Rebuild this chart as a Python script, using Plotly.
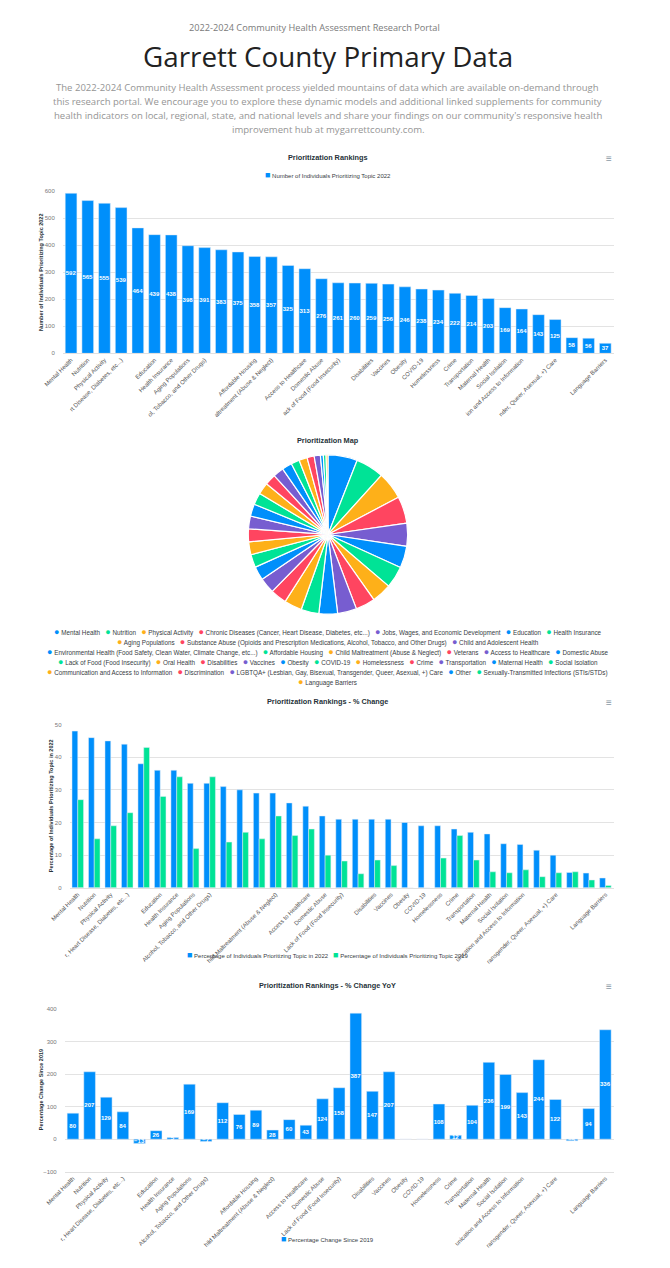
import plotly.graph_objects as go

W, H = 670, 1268

categories = [
    "Mental Health", "Nutrition", "Physical Activity",
    "Chronic Diseases (Cancer, Heart Disease, Diabetes, etc...)",
    "Jobs, Wages, and Economic Development", "Education", "Health Insurance",
    "Aging Populations",
    "Substance Abuse (Opioids and Prescription Medications, Alcohol, Tobacco, and Other Drugs)",
    "Child and Adolescent Health",
    "Environmental Health (Food Safety, Clean Water, Climate Change, etc...)",
    "Affordable Housing", "Child Maltreatment (Abuse & Neglect)", "Veterans",
    "Access to Healthcare", "Domestic Abuse", "Lack of Food (Food Insecurity)",
    "Oral Health", "Disabilities", "Vaccines", "Obesity", "COVID-19", "Homelessness",
    "Crime", "Transportation", "Maternal Health", "Social Isolation",
    "Communication and Access to Information", "Discrimination",
    "LGBTQA+ (Lesbian, Gay, Bisexual, Transgender, Queer, Asexual, +) Care",
    "Other", "Sexually-Transmitted Infections (STIs/STDs)", "Language Barriers",
]

count_2022 = [592, 565, 555, 539, 464, 439, 438, 398, 391, 383, 375, 358, 357, 325, 313,
              276, 261, 260, 259, 256, 246, 238, 234, 222, 214, 203, 169, 164, 143, 125,
              58, 56, 37]

pct_2022 = [48, 46, 45, 44, 38, 36, 36, 32, 32, 31, 30, 29, 29, 26, 25, 22, 21,
            21, 21, 21, 20, 19, 19, 18, 17, 16.5, 13.5, 13.3, 11.5, 10, 4.7, 4.5, 3]

pct_2019 = [27, 15, 19, 23, 43, 28, 34, 12, 34, 14, 17, 15, 22, 16, 18, 10, 8.2,
            4.3, 8.5, 6.8, 0, 0, 9.1, 16, 8.5, 4.9, 4.6, 5.5, 3.4, 4.6, 4.9, 2.4, 0.7]

pct_change = [80, 207, 129, 84, -13, 26, 5, 169, -7, 112, 76, 89, 28, 60, 43, 124, 158,
              387, 147, 207, 0, 0, 108, 12, 104, 236, 199, 143, 244, 122, -5, 94, 336]

palette = ["#008FFB", "#00E396", "#FEB019", "#FF4560", "#775DD0"]

# indices of category labels that the reference shows on each x axis
shown_idx_1 = [0, 1, 2, 3, 5, 6, 7, 8, 11, 12, 14, 15, 16, 18, 19, 20, 21, 22, 23, 24,
               25, 26, 27, 29, 32]
shown_idx_3 = [i for i in shown_idx_1 if i != 11]
shown_idx_4 = list(shown_idx_1)

legend_line_sizes = [7, 3, 6, 11, 5, 1]

BLUE = palette[0]
GREEN = palette[1]
FONT = "Liberation Sans, Arial, sans-serif"
HFONT = "Open Sans, Lato, sans-serif"


def px(x):
    return x / W


def py(y):
    return 1 - y / H


def tail(s, k):
    return s if len(s) <= k else s[-k:]


colors = [palette[i % 5] for i in range(len(categories))]

fig = go.Figure()

# Chart 1
fig.add_trace(go.Bar(
    x=categories, y=count_2022, marker_color=BLUE, xaxis="x", yaxis="y",
    texttemplate="%{y}", textposition="inside", insidetextanchor="middle",
    textangle=0, textfont=dict(size=6, color="white", family=FONT, weight="bold"),
    showlegend=False, name="Number of Individuals Prioritizing Topic 2022",
))

# Chart 2 pie
cx, cy, r = 318, 534, 82
fig.add_trace(go.Pie(
    labels=categories, values=count_2022, sort=False, direction="clockwise",
    rotation=0, marker=dict(colors=colors, line=dict(color="white", width=1.2)),
    textinfo="none", showlegend=False,
    domain=dict(x=[px(cx - r), px(cx + r)], y=[py(cy + r), py(cy - r)]),
))

# Chart 3
fig.add_trace(go.Bar(
    x=categories, y=pct_2022, marker_color=BLUE, xaxis="x2", yaxis="y2",
    showlegend=False, name="Percentage of Individuals Prioritizing Topic in 2022",
))
fig.add_trace(go.Bar(
    x=categories, y=pct_2019, marker_color=GREEN, xaxis="x2", yaxis="y2",
    showlegend=False, name="Percentage of Individuals Prioritizing Topic 2019",
))

# Chart 4
fig.add_trace(go.Bar(
    x=categories, y=pct_change, marker_color=BLUE, xaxis="x3", yaxis="y3",
    texttemplate="%{y}", textposition="inside", insidetextanchor="middle",
    textangle=0, textfont=dict(size=6, color="white", family=FONT, weight="bold"),
    showlegend=False, name="Percentage Change Since 2019",
))


def xaxis_cfg(x0, x1, idx, k):
    return dict(
        domain=[px(x0), px(x1)], type="category",
        tickvals=[categories[i] for i in idx],
        ticktext=[tail(categories[i], k) for i in idx],
        tickangle=-45, tickfont=dict(size=6, color="#555", family=FONT),
        showgrid=False, showline=True, linecolor="#e0e0e0", linewidth=1,
        ticks="", fixedrange=True,
    )


def yaxis_cfg(y0, y1, rng, dtick, anchor):
    return dict(
        domain=[py(y1), py(y0)], range=rng, dtick=dtick,
        showgrid=True, gridcolor="#e3e3e3", gridwidth=1, zeroline=False,
        tickfont=dict(size=6, color="#777", family=FONT),
        ticklabelstandoff=7, anchor=anchor, fixedrange=True,
    )


fig.update_layout(
    width=W, height=H, margin=dict(l=0, r=0, t=0, b=0),
    paper_bgcolor="white", plot_bgcolor="white",
    barmode="group", bargap=0.3, bargroupgap=0,
    uniformtext=dict(minsize=6, mode="show"),
    font=dict(family=FONT),
    xaxis=xaxis_cfg(45, 612, shown_idx_1, 29),
    yaxis=yaxis_cfg(189, 352, [0, 600], 100, "x"),
    xaxis2=dict(xaxis_cfg(52, 612, shown_idx_3, 35), anchor="y2"),
    yaxis2=yaxis_cfg(725, 889, [0, 50], 10, "x2"),
    xaxis3=dict(xaxis_cfg(47, 612, shown_idx_4, 35), anchor="y3"),
    yaxis3=yaxis_cfg(1010.7, 1174.3, [-100, 400], 100, "x3"),
)

ann = []


def text(x, y, s, size, color="#373d3f", family=FONT, angle=0, xanchor="center"):
    ann.append(dict(x=px(x), y=py(y), xref="paper", yref="paper", text=s,
                    showarrow=False, textangle=angle, xanchor=xanchor, yanchor="middle",
                    font=dict(size=size, color=color, family=family)))


# Header
text(304, 25, "2022-2024 Community Health Assessment Research Portal", 9.2, "#7a7a7a", HFONT)
text(318, 53, "Garrett County Primary Data", 27.8, "#222222", HFONT)
para = [
    "The 2022-2024 Community Health Assessment process yielded mountains of data which are available on-demand through",
    "this research portal. We encourage you to explore these dynamic models and additional linked supplements for community",
    "health indicators on local, regional, state, and national levels and share your findings on our community's responsive health",
    "improvement hub at mygarrettcounty.com.",
]
for i, line in enumerate(para):
    text(318, 85 + 14 * i, line, 9.55, "#959595", HFONT)

# Chart titles
for y, t in [(155, "Prioritization Rankings"), (440, "Prioritization Map"),
             (702, "Prioritization Rankings - % Change"),
             (987, "Prioritization Rankings - % Change YoY")]:
    text(318, y, "<b>" + t + "</b>", 7.3, "#263238")
for y in [156, 703, 988]:
    text(607, y, "≡", 10, "#8a99a6")

# Y axis titles
text(22, 270, "<b>Number of Individuals Prioritizing Topic 2022</b>", 5.5, "#263238", angle=-90)
text(33, 807, "<b>Percentage of Individuals Prioritizing Topic in 2022</b>", 5.5, "#263238", angle=-90)
text(22, 1092, "<b>Percentage Change Since 2019</b>", 5.5, "#263238", angle=-90)


def sq(c):
    return "<span style='color:%s;font-size:9px'>■</span>" % c


def dot(c):
    return "<span style='color:%s;font-size:9px'>●</span>" % c


# Legends for bar charts
text(318, 173, sq(BLUE) + " Number of Individuals Prioritizing Topic 2022", 6, "#373d3f")
text(318, 957, sq(BLUE) + " Percentage of Individuals Prioritizing Topic in 2022   "
     + sq(GREEN) + " Percentage of Individuals Prioritizing Topic 2019", 6, "#373d3f")
text(318, 1242, sq(BLUE) + " Percentage Change Since 2019", 6, "#373d3f")

# Pie legend
start = 0
for li, n in enumerate(legend_line_sizes):
    items = [dot(colors[j]) + " " + categories[j] for j in range(start, start + n)]
    text(318, 632 + 10 * li, "   ".join(items), 6.3, "#373d3f")
    start += n

fig.update_layout(annotations=ann)

fig.write_html("out.html", post_script="document.body.style.margin='0';",
               config={"displayModeBar": False, "responsive": False})
